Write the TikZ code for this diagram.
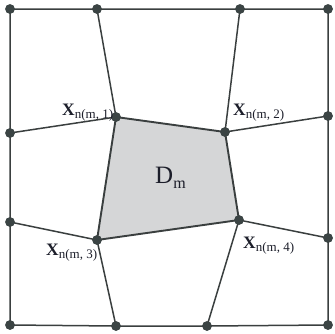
\documentclass[tikz,border=0pt]{standalone}
\usepackage{fontspec}
\setmainfont{Liberation Serif}
\definecolor{edgec}{HTML}{3A3F3F}
\definecolor{dotc}{HTML}{3B4444}
\definecolor{quadc}{HTML}{D5D6D7}
\definecolor{labc}{HTML}{1C1E2A}
\tikzset{
  dot/.style={circle,fill=dotc,inner sep=0pt,minimum size=9.5pt},
  edge/.style={draw=edgec,line width=1.5pt},
  qedge/.style={draw=edgec,line width=1.9pt},
  lab/.style={anchor=base west,inner sep=0pt,text=labc}
}
\newcommand{\xlab}[1]{{\fontsize{17.5}{17.5}\selectfont\bfseries X}\raisebox{-3.5pt}{\fontsize{13}{13}\selectfont n(m, #1)}}
\begin{document}
\begin{tikzpicture}[x=1pt,y=-1pt]
\useasboundingbox (0,0) rectangle (335,333);
% quad fill
\coordinate (c1) at (116,117);
\coordinate (c2) at (225,132);
\coordinate (c3) at (97,240);
\coordinate (c4) at (239,220);
\fill[quadc] (c1) -- (c2) -- (c4) -- (c3) -- cycle;
% dots
\node[dot] (TL) at (10,9) {};
\node[dot] (T1) at (97,9) {};
\node[dot] (T2) at (240,9) {};
\node[dot] (TR) at (328,9) {};
\node[dot] (R1) at (328,116) {};
\node[dot] (R2) at (328,238) {};
\node[dot] (BR) at (328,325) {};
\node[dot] (B2) at (207,326) {};
\node[dot] (B1) at (116,326) {};
\node[dot] (BL) at (10,325) {};
\node[dot] (L2) at (10,222) {};
\node[dot] (L1) at (10,133) {};
\node[dot] (X1) at (c1) {};
\node[dot] (X2) at (c2) {};
\node[dot] (X3) at (c3) {};
\node[dot] (X4) at (c4) {};
% outer square
\draw[edge] (TL.center) -- (T1.center) -- (T2.center) -- (TR.center) -- (R1.center) -- (R2.center) -- (BR.center)
  -- (B2.center) -- (B1.center) -- (BL.center) -- (L2.center) -- (L1.center) -- cycle;
% spokes
\draw[edge] (T1.center) -- (X1.center);
\draw[edge] (T2.center) -- (X2.center);
\draw[edge] (L1.center) -- (X1.center);
\draw[edge] (R1.center) -- (X2.center);
\draw[edge] (L2.center) -- (X3.center);
\draw[edge] (R2.center) -- (X4.center);
\draw[edge] (B1.center) -- (X3.center);
\draw[edge] (B2.center) -- (X4.center);
% quad
\draw[qedge,line join=round] (X1.center) -- (X2.center) -- (X4.center) -- (X3.center) -- cycle;
% redraw dots on top
\foreach \n in {TL,T1,T2,TR,R1,R2,BR,B2,B1,BL,L2,L1,X1,X2,X3,X4}
  \fill[dotc] (\n.center) circle (4.75pt);
% labels
\node[lab] (lab1) at (62,115) {\xlab{1}};
\node[lab] (lab2) at (233,115) {\xlab{2}};
\node[lab] (lab3) at (46,255) {\xlab{3}};
\node[lab] (lab4) at (243,248) {\xlab{4}};
\node[lab] (labD) at (155,183) {{\fontsize{25}{25}\selectfont D}\raisebox{-5pt}{\fontsize{16}{16}\selectfont m}};
\end{tikzpicture}
\end{document}
